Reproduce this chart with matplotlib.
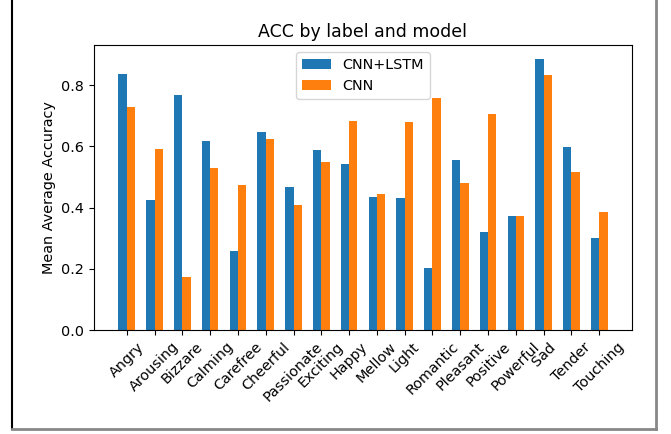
import numpy as np
import matplotlib
matplotlib.use('Agg')
import matplotlib.pyplot as plt
from matplotlib.lines import Line2D

# Datos
labels = ['Angry', 'Arousing', 'Bizzare', 'Calming', 'Carefree', 'Cheerful',
          'Passionate', 'Exciting', 'Happy', 'Mellow', 'Light', 'Romantic',
          'Pleasant', 'Positive', 'Powerful', 'Sad', 'Tender', 'Touching']
acc_cnn_lstm = [0.837, 0.424, 0.767, 0.617, 0.257, 0.647, 0.467, 0.589, 0.543,
                0.433, 0.430, 0.204, 0.556, 0.321, 0.371, 0.887, 0.599, 0.300]
acc_cnn = [0.729, 0.590, 0.172, 0.529, 0.473, 0.625, 0.409, 0.550, 0.683,
           0.443, 0.681, 0.757, 0.480, 0.707, 0.373, 0.832, 0.515, 0.386]

plt.rcParams['font.size'] = 10.4

W, H = 671, 434
fig = plt.figure(figsize=(W / 100, H / 100), dpi=100)
ax = fig.add_axes([94 / W, 1 - 330 / H, (632 - 94) / W, (330 - 45) / H])

x = np.arange(len(labels))
width = 0.3
ax.bar(x - width / 2, acc_cnn_lstm, width, label='CNN+LSTM', color='#1f77b4')
ax.bar(x + width / 2, acc_cnn, width, label='CNN', color='#ff7f0e')

ax.set_xticks(x)
ax.set_xticklabels(labels, rotation=45)
ax.set_ylabel('Mean Average Accuracy')
ax.set_title('ACC by label and model', fontsize=12.5)
ax.legend(loc='upper center')

# Marco de la ventana (recortado arriba)
fig.add_artist(Line2D([11.5 / W, 11.5 / W], [1 - 429 / H, 1.0], color='black', lw=1.5))
fig.add_artist(Line2D([11.5 / W, 655.5 / W], [1 - 429 / H, 1 - 429 / H], color='#888888', lw=2))
fig.add_artist(Line2D([655.5 / W, 655.5 / W], [1 - 429 / H, 1.0], color='#888888', lw=2))

fig.savefig('out.png', dpi=100)
